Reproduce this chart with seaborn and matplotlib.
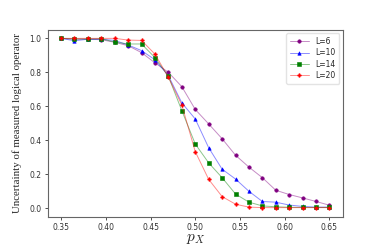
import numpy as np
import pandas as pd
import matplotlib
matplotlib.use('Agg')
import matplotlib.pyplot as plt
import seaborn as sns

px = [0.35, 0.365, 0.38, 0.395, 0.41, 0.425, 0.44, 0.455, 0.47, 0.485, 0.50,
      0.515, 0.53, 0.545, 0.56, 0.575, 0.59, 0.605, 0.62, 0.635, 0.65]

L6 = [1.0, 0.995, 0.995, 0.992, 0.977, 0.957, 0.916, 0.856, 0.800, 0.716, 0.582,
      0.497, 0.410, 0.313, 0.243, 0.181, 0.107, 0.082, 0.062, 0.041, 0.019]
L10 = [1.0, 0.986, 0.995, 0.995, 0.988, 0.961, 0.928, 0.874, 0.780, 0.621, 0.526,
       0.357, 0.231, 0.173, 0.101, 0.041, 0.037, 0.020, 0.012, 0.008, 0.008]
L14 = [1.0, 0.997, 0.996, 0.998, 0.978, 0.967, 0.967, 0.887, 0.776, 0.575, 0.379,
       0.268, 0.181, 0.085, 0.037, 0.015, 0.010, 0.007, 0.006, 0.006, 0.006]
L20 = [1.0, 1.0, 1.0, 1.0, 1.0, 0.990, 0.988, 0.907, 0.771, 0.608, 0.334,
       0.171, 0.070, 0.025, 0.008, 0.005, 0.005, 0.005, 0.005, 0.005, 0.005]

labels = ['L=6', 'L=10', 'L=14', 'L=20']
colors = ['purple', 'blue', 'green', 'red']
markers = ['o', '^', 's', 'P']

sns.set_style('ticks')
plt.rcParams['font.family'] = ['DejaVu Sans']
plt.rcParams['mathtext.fontset'] = 'cm'

fig, ax = plt.subplots(figsize=(3.81, 2.46), dpi=100)
fig.subplots_adjust(left=0.125, right=0.9, top=0.88, bottom=0.118)

for vals, lab, col, mk in zip([L6, L10, L14, L20], labels, colors, markers):
    df = pd.DataFrame({'px': px, 'val': vals})
    sns.lineplot(data=df, x='px', y='val', ax=ax, label=lab, color=col,
                 marker=mk, markersize=2.5, markeredgewidth=0.4, linewidth=0.7)

# light lines, solid markers
for line in ax.lines:
    c = matplotlib.colors.to_rgba(line.get_color())
    line.set_color((c[0], c[1], c[2], 0.45))
    line.set_markerfacecolor(c[:3])
    line.set_markeredgecolor(c[:3])

ax.set_xticks([0.35, 0.40, 0.45, 0.50, 0.55, 0.60, 0.65])
ax.set_yticks([0.0, 0.2, 0.4, 0.6, 0.8, 1.0])
ax.set_xlim(0.335, 0.665)
ax.set_ylim(-0.05, 1.052)
ax.tick_params(labelsize=5.5, length=2.5, width=0.6, colors='#333333', pad=2)
for s in ax.spines.values():
    s.set_color('#666666')
    s.set_linewidth(0.8)

ax.set_xlabel('$p_X$', fontsize=11, labelpad=-1)
ax.set_ylabel('Uncertainty of measured logical operator', fontsize=7.8,
              family='Liberation Serif', labelpad=5)

ax.legend(loc='upper right', fontsize=5.5, frameon=True, framealpha=0.8,
          edgecolor='#dddddd', handlelength=2.5, borderpad=0.5, labelspacing=0.3)

fig.savefig('out.png', dpi=100)
